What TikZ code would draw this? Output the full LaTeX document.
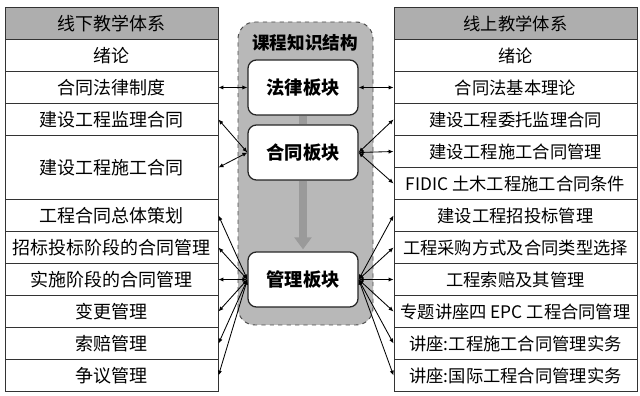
\documentclass[tikz,border=0pt]{standalone}
\usepackage{fontspec}
\setmainfont{Noto Sans CJK SC}
\usepackage{tikz}
\usetikzlibrary{arrows.meta}
\definecolor{kcgray}{HTML}{AEAEAE}
\definecolor{kcback}{HTML}{B8B8B8}
\definecolor{kcarrow}{HTML}{9A9A9A}

\begin{document}
\begin{tikzpicture}[x=1cm,y=1cm,
    cell/.style={draw=black!80,line width=0.7pt,minimum height=0.8cm,inner sep=0pt,
      font=\fontsize{12.8}{15}\selectfont},
    lcell/.style={cell,minimum width=5.325cm},
    rcell/.style={cell,minimum width=6.075cm,font=\fontsize{12.3}{15}\selectfont},
    block/.style={draw=black!85,line width=0.9pt,fill=white,rounded corners=6pt,
      minimum width=2.75cm,minimum height=1.375cm,font=\fontsize{13}{15}\selectfont\bfseries},
    link/.style={{Latex[length=3.5pt,width=3pt]}-{Latex[length=3.5pt,width=3pt]},line width=0.6pt},
    flow/.style={-{Triangle[length=0.3cm,width=0.42cm]},kcarrow,line width=0.2cm}]
  \useasboundingbox (0,0) rectangle (16,9.875);

  % middle: course structure
  \draw[black!70,dashed,line width=0.7pt,fill=kcback,rounded corners=12pt] (5.95,1.75) rectangle (9.325,9.325);
  \node[font=\fontsize{12.5}{15}\selectfont\bfseries] (title) at (7.625,8.8) {课程知识结构};
  \node[block] (law) at (7.575,7.6875) {法律板块};
  \node[block] (contract) at (7.575,6.0625) {合同板块};
  \node[block] (manage) at (7.575,2.8875) {管理板块};
  \draw[kcarrow,line width=0.2cm] (law.south) -- (contract.north);
  \draw[flow] (contract.south) -- ([yshift=0.05cm]manage.north);

  % left: offline teaching
  \node[lcell,fill=kcgray] (L0) at (2.7875,9.2875) {线下教学体系};
  \node[lcell] (L1) at (2.7875,8.4875) {绪论};
  \node[lcell] (L2) at (2.7875,7.6875) {合同法律制度};
  \node[lcell] (L3) at (2.7875,6.8875) {建设工程监理合同};
  \node[lcell,minimum height=1.6cm] (L4) at (2.7875,5.6875) {建设工程施工合同};
  \node[lcell] (L6) at (2.7875,4.4875) {工程合同总体策划};
  \node[lcell] (L7) at (2.7875,3.6875) {招标投标阶段的合同管理};
  \node[lcell] (L8) at (2.7875,2.8875) {实施阶段的合同管理};
  \node[lcell] (L9) at (2.7875,2.0875) {变更管理};
  \node[lcell] (L10) at (2.7875,1.2875) {索赔管理};
  \node[lcell] (L11) at (2.7875,0.4875) {争议管理};

  % right: online teaching
  \node[rcell,fill=kcgray] (R0) at (12.8875,9.2875) {线上教学体系};
  \node[rcell] (R1) at (12.8875,8.4875) {绪论};
  \node[rcell] (R2) at (12.8875,7.6875) {合同法基本理论};
  \node[rcell] (R3) at (12.8875,6.8875) {建设工程委托监理合同};
  \node[rcell] (R4) at (12.8875,6.0875) {建设工程施工合同管理};
  \node[rcell] (R5) at (12.8875,5.2875) {FIDIC 土木工程施工合同条件};
  \node[rcell] (R6) at (12.8875,4.4875) {建设工程招投标管理};
  \node[rcell] (R7) at (12.8875,3.6875) {工程采购方式及合同类型选择};
  \node[rcell] (R8) at (12.8875,2.8875) {工程索赔及其管理};
  \node[rcell] (R9) at (12.8875,2.0875) {专题讲座四 EPC 工程合同管理};
  \node[rcell] (R10) at (12.8875,1.2875) {讲座:工程施工合同管理实务};
  \node[rcell] (R11) at (12.8875,0.4875) {讲座:国际工程合同管理实务};

  % links
  \draw[link] (law.west) -- (L2.east);
  \draw[link] (law.east) -- (R2.west);
  \draw[link] (contract.west) -- (L3.east);
  \draw[link] (contract.west) -- (L4.east);
  \draw[link] (contract.east) -- (R3.west);
  \draw[link] (contract.east) -- (R4.west);
  \draw[link] (contract.east) -- (R5.west);
  \foreach \n in {6,...,11} {
    \draw[link] (manage.west) -- (L\n.east);
    \draw[link] (manage.east) -- (R\n.west);
  }
\end{tikzpicture}
\end{document}
